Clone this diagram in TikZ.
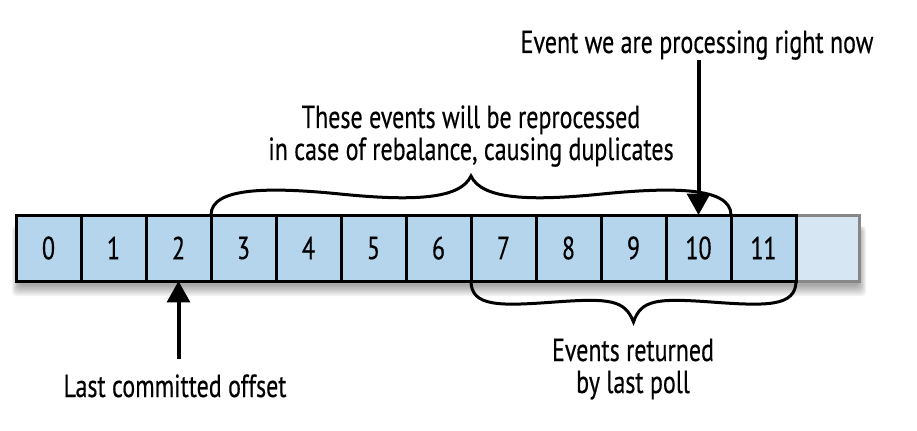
\documentclass[tikz,border=0pt]{standalone}
\usepackage{fontspec}
\setmainfont{PT Sans}[FakeStretch=0.75,FakeBold=0.4]
\usetikzlibrary{arrows.meta,calc}
\definecolor{cellblue}{RGB}{180,213,236}
\definecolor{cellpale}{RGB}{214,230,243}
\definecolor{cellgray}{RGB}{135,135,135}
\begin{document}
\begin{tikzpicture}[x=0.75pt,y=-0.75pt,
  cell/.style={draw=black, line width=2.25pt, fill=cellblue, minimum width=48.75pt,
    minimum height=49.5pt, inner sep=0pt, outer sep=0pt, font=\fontsize{24}{24}\selectfont},
  lbl/.style={font=\fontsize{24}{24}\selectfont, align=center, inner sep=0pt, anchor=base},
  brace/.style={line width=2.25pt, line cap=round},
  ptr/.style={line width=3pt, -{Triangle[width=17pt,length=16pt]}}
]
\useasboundingbox (0,0) rectangle (917,431);
% soft shadow
\foreach \i in {0,...,7}
  \fill[black, opacity=0.05, rounded corners=3pt] ({12+\i},{226+\i*0.5}) rectangle ({866-\i},{296-\i*1.5});
% cells
\node[cell, draw=cellgray, fill=cellpale] (c12) at (826.5,248) {};
\foreach \i in {0,...,11}
  \node[cell] (c\i) at ({48.5+65*\i},248) {\i};
% labels (base = baseline of last line)
\node[lbl] (evt) at (697,53) {Event we are processing right now};
\node[lbl] (dup) at (471,160) {These events will be reprocessed\\in case of rebalance, causing duplicates};
\node[lbl] (poll) at (633,393) {Events returned\\by last poll};
\node[lbl] (lco) at (175,397) {Last committed offset};
% braces
\coordinate (ttip) at ($(c3.north west)!0.5!(c11.north west)+(0,-39)$);
\coordinate (btip) at ($(c7.south west)!0.5!(c11.south east)+(0,41)$);
\draw[brace] (c3.north west) .. controls +(0,-28) and (270,187) .. (340,194)
  .. controls (410,201) and (460,200) .. (ttip)
  .. controls (482,200) and (532,201) .. (602,194)
  .. controls (672,187) and (731,187) .. (c11.north west);
\draw[brace] (c7.south west) .. controls +(0,26) and (500,306) .. (555,302)
  .. controls (610,298) and (625,300) .. (btip)
  .. controls (641,300) and (656,298) .. (711,302)
  .. controls (766,306) and (796,307) .. (c11.south east);
% arrows
\draw[ptr] (c10.north |- evt.south) -- (c10.north);
\draw[ptr, shorten <=11pt] (c2.south |- lco.north) -- (c2.south);
\end{tikzpicture}
\end{document}
